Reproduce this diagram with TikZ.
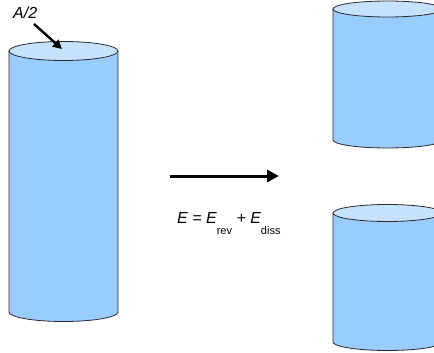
\documentclass[tikz,border=0pt]{standalone}
\usepackage{fontspec}
\setmainfont{Liberation Sans}
\usetikzlibrary{arrows.meta}
\definecolor{bodyblue}{HTML}{99CCFF}
\definecolor{topblue}{HTML}{C6E2FF}
\definecolor{edge}{HTML}{2A2A2A}
\tikzset{
  body/.style={fill=bodyblue, draw=edge, line width=0.8pt},
  lid/.style={fill=topblue, draw=edge, line width=0.8pt},
  bigarrow/.style={line width=3pt, -{Triangle[length=12pt,width=12pt]}},
  smallarrow/.style={line width=2.4pt, -{Triangle[length=9pt,width=9pt]}},
}
% cylinder: left x, right x, top centre y, bottom centre y, radius y
\newcommand{\mycyl}[5]{%
  \pgfmathsetmacro{\rx}{(#2-#1)/2}%
  \pgfmathsetmacro{\cx}{(#2+#1)/2}%
  \path[body] (#1,#3) -- (#1,#4) arc[start angle=180,end angle=360,x radius=\rx,y radius=-#5] -- (#2,#3) -- cycle;
  \path[lid] (\cx,#3) ellipse[x radius=\rx,y radius=#5];
}
\begin{document}
\begin{tikzpicture}[x=1pt,y=-1pt]
\useasboundingbox (0,0) rectangle (434,353);
\clip (0,0) rectangle (434,353);
% left cylinder
\mycyl{9}{118}{51}{312}{9.5}
% right cylinders
\mycyl{333}{442}{9}{140}{8}
\mycyl{333}{442}{213}{342}{8.5}
% A/2 label and arrow
\node[font=\fontsize{16}{18}\selectfont\itshape, anchor=base west, inner sep=0pt] (lab) at (13,19) {A/2};
\coordinate (tgt) at (62,49);
\coordinate (src) at (34,24);
\draw[smallarrow] (src) -- (tgt);
% main arrow
\coordinate (a1) at (170,176);
\coordinate (a2) at (279,176);
\draw[bigarrow] (a1) -- (a2);
% energy formula
\node[anchor=base west, inner sep=0pt] (eq) at (177,223)
  {\fontsize{16}{18}\selectfont\itshape E = E\raisebox{-11pt}{\upshape\fontsize{11}{11}\selectfont rev} + E\raisebox{-11pt}{\upshape\fontsize{11}{11}\selectfont diss}};
\end{tikzpicture}
\end{document}
